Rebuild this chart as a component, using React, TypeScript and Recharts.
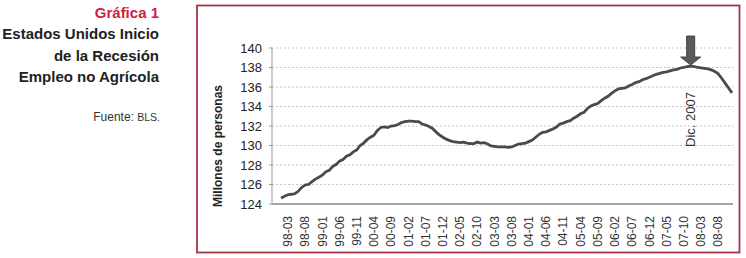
import React from "react";
import {
  LineChart,
  Line,
  CartesianGrid,
  XAxis,
  YAxis,
  ReferenceDot,
} from "recharts";

// monthly, 98-01 .. 08-12, millions of people
const months = [
  "98-01", "98-02", "98-03", "98-04", "98-05", "98-06", "98-07", "98-08", "98-09", "98-10", "98-11", "98-12",
  "99-01", "99-02", "99-03", "99-04", "99-05", "99-06", "99-07", "99-08", "99-09", "99-10", "99-11", "99-12",
  "00-01", "00-02", "00-03", "00-04", "00-05", "00-06", "00-07", "00-08", "00-09", "00-10", "00-11", "00-12",
  "01-01", "01-02", "01-03", "01-04", "01-05", "01-06", "01-07", "01-08", "01-09", "01-10", "01-11", "01-12",
  "02-01", "02-02", "02-03", "02-04", "02-05", "02-06", "02-07", "02-08", "02-09", "02-10", "02-11", "02-12",
  "03-01", "03-02", "03-03", "03-04", "03-05", "03-06", "03-07", "03-08", "03-09", "03-10", "03-11", "03-12",
  "04-01", "04-02", "04-03", "04-04", "04-05", "04-06", "04-07", "04-08", "04-09", "04-10", "04-11", "04-12",
  "05-01", "05-02", "05-03", "05-04", "05-05", "05-06", "05-07", "05-08", "05-09", "05-10", "05-11", "05-12",
  "06-01", "06-02", "06-03", "06-04", "06-05", "06-06", "06-07", "06-08", "06-09", "06-10", "06-11", "06-12",
  "07-01", "07-02", "07-03", "07-04", "07-05", "07-06", "07-07", "07-08", "07-09", "07-10", "07-11", "07-12",
  "08-01", "08-02", "08-03", "08-04", "08-05", "08-06", "08-07", "08-08", "08-09", "08-10", "08-11", "08-12",
];

const empleo = [
  124.6, 124.8, 124.95, 125.0, 125.05, 125.3, 125.7, 125.95, 126.0, 126.3, 126.55, 126.75,
  126.95, 127.3, 127.45, 127.85, 128.05, 128.4, 128.55, 128.9, 129.05, 129.35, 129.55, 130.0,
  130.25, 130.6, 130.85, 131.05, 131.55, 131.85, 131.9, 131.85, 132.0, 132.05, 132.15, 132.35,
  132.45, 132.5, 132.5, 132.45, 132.45, 132.2, 132.1, 131.95, 131.75, 131.4, 131.1, 130.85,
  130.65, 130.5, 130.4, 130.35, 130.3, 130.35, 130.25, 130.2, 130.2, 130.35, 130.25, 130.3,
  130.15, 129.95, 129.9, 129.85, 129.85, 129.85, 129.8, 129.85, 130.0, 130.15, 130.2, 130.25,
  130.4, 130.55, 130.85, 131.15, 131.35, 131.4, 131.55, 131.7, 131.9, 132.2, 132.3, 132.45,
  132.55, 132.8, 133.0, 133.25, 133.4, 133.8, 134.05, 134.2, 134.3, 134.6, 134.85, 135.05,
  135.35, 135.6, 135.8, 135.85, 135.9, 136.1, 136.25, 136.45, 136.55, 136.75, 136.85, 137.0,
  137.15, 137.3, 137.4, 137.5, 137.55, 137.65, 137.75, 137.8, 137.95, 138.0, 138.1, 138.15,
  138.1, 138.0, 137.95, 137.9, 137.85, 137.75, 137.6, 137.35, 136.9, 136.4, 135.9, 135.4,
];

const xTicks = [
  "98-03", "98-08", "99-01", "99-06", "99-11", "00-04", "00-09", "01-02", "01-07", "01-12",
  "02-05", "02-10", "03-03", "03-08", "04-01", "04-06", "04-11", "05-04", "05-09", "06-02",
  "06-07", "06-12", "07-05", "07-10", "08-03", "08-08",
];
const yTicks = [124, 126, 128, 130, 132, 134, 136, 138, 140];

const markerMonth = "07-12";
const markerLabel = "Dic. 2007";

const data = months.map((m, i) => ({ month: m, empleo: empleo[i] }));
const markerValue = empleo[months.indexOf(markerMonth)];

const FONT = "'Liberation Sans', Arial, sans-serif";

const RotTick = (props: any) => {
  const { x, y, payload } = props;
  return (
    <text
      x={x}
      y={y}
      transform={`rotate(-90 ${x} ${y})`}
      textAnchor="end"
      dy="0.35em"
      fontSize={12}
      fontFamily={FONT}
      fill="#333"
    >
      {payload.value}
    </text>
  );
};

const Arrow = (props: any) => {
  const { cx, cy } = props;
  if (cx == null || cy == null) return <g />;
  const t = cy - 1;
  const pts = [
    [cx - 4, t - 29],
    [cx + 4, t - 29],
    [cx + 4, t - 8],
    [cx + 10, t - 8],
    [cx, t],
    [cx - 10, t - 8],
    [cx - 4, t - 8],
  ]
    .map((p) => p.join(","))
    .join(" ");
  return (
    <g>
      <polygon points={pts} fill="#5a5a5a" stroke="#444" strokeWidth={1} />
      <text
        x={cx}
        y={cy + 26}
        transform={`rotate(-90 ${cx} ${cy + 26})`}
        textAnchor="end"
        dy="0.35em"
        fontSize={13}
        fontFamily={FONT}
        fill="#333"
      >
        {markerLabel}
      </text>
    </g>
  );
};

export default function App() {
  return (
    <div style={{ position: "relative", width: 746, height: 258, fontFamily: FONT }}>
      <style>{"body{margin:0}"}</style>
      <div
        style={{
          position: "absolute",
          left: 0,
          top: 2,
          width: 159,
          textAlign: "right",
          fontSize: 15,
          fontWeight: "bold",
          lineHeight: "21.3px",
          color: "#222",
          whiteSpace: "nowrap",
        }}
      >
        <div style={{ color: "#d0213d" }}>Gráfica 1</div>
        <div>Estados Unidos Inicio</div>
        <div>de la Recesión</div>
        <div>Empleo no Agrícola</div>
      </div>
      <div
        style={{
          position: "absolute",
          left: 0,
          top: 109,
          width: 160,
          textAlign: "right",
          fontSize: 12,
          lineHeight: "16px",
          color: "#333",
        }}
      >
        Fuente: <span style={{ fontSize: 10.5 }}>BLS.</span>
      </div>

      <div style={{ position: "absolute", left: 197, top: 5 }}>
        <LineChart
          width={543}
          height={248}
          data={data}
          margin={{ top: 43, right: 7, left: 0, bottom: 0 }}
        >
          <CartesianGrid
            vertical={false}
            stroke="#c4c4c4"
            strokeDasharray="2 2"
          />
          <XAxis
            dataKey="month"
            ticks={xTicks}
            interval={0}
            tick={<RotTick />}
            tickLine={false}
            tickSize={0}
            tickMargin={12}
            height={49}
            padding={{ left: 9, right: 1 }}
            axisLine={{ stroke: "#a6a6a6", strokeWidth: 2 }}
          />
          <YAxis
            width={75}
            domain={[124, 140]}
            ticks={yTicks}
            interval={0}
            tickSize={3}
            tickMargin={7}
            tickLine={{ stroke: "#999" }}
            axisLine={{ stroke: "#999" }}
            tick={{ fontSize: 13, fill: "#222", fontFamily: FONT }}
          />
          <Line
            type="linear"
            dataKey="empleo"
            stroke="#4a4a4a"
            strokeWidth={2.8}
            dot={false}
            isAnimationActive={false}
          />
          <ReferenceDot
            x={markerMonth}
            y={markerValue}
            shape={<Arrow />}
          />
        </LineChart>
        <svg
          width={40}
          height={248}
          style={{ position: "absolute", left: 0, top: 0 }}
        >
          <text
            x={21}
            y={141}
            transform="rotate(-90 21 141)"
            textAnchor="middle"
            dy="0.35em"
            fontSize={12}
            fontWeight="bold"
            fontFamily={FONT}
            fill="#222"
          >
            Millones de personas
          </text>
        </svg>
      </div>

      <svg
        width={746}
        height={258}
        style={{ position: "absolute", left: 0, top: 0, pointerEvents: "none", zIndex: 2 }}
      >
        <rect
          x={197}
          y={5.5}
          width={542.5}
          height={247}
          fill="none"
          stroke="#a23445"
          strokeWidth={1.8}
        />
      </svg>
    </div>
  );
}
